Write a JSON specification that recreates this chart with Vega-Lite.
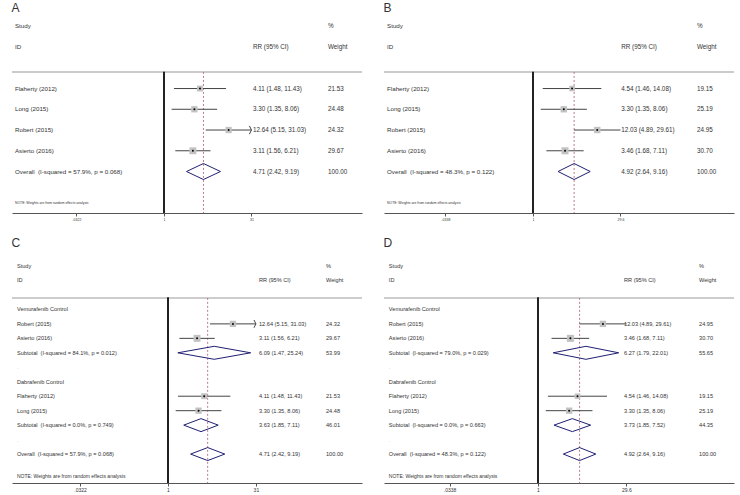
{
  "$schema": "https://vega.github.io/schema/vega-lite/v6.json",
  "background": "white",
  "padding": {"left": 11, "top": 2, "right": 0, "bottom": 0},
  "config": {
    "view": {"stroke": null},
    "font": "Liberation Sans",
    "title": {"fontSize": 12, "fontWeight": "normal", "anchor": "start", "color": "#333", "offset": 3, "font": "Liberation Sans"},
    "axis": {"grid": false, "domainColor": "#555", "tickColor": "#555", "tickSize": 3, "labelColor": "#333", "labelPadding": 1, "title": null, "labelFont": "Liberation Sans"}
  },
  "datasets": {
    "A": [
      {"row": -3, "label": "Study", "wtext": "%", "kind": "head"},
      {"row": -2, "label": "ID", "rrtext": "RR (95% CI)", "wtext": "Weight", "kind": "head"},
      {"row": 0, "label": "Flaherty (2012)", "rr": 4.11, "lo": 1.48, "hi": 11.43, "w": 21.53, "rrtext": "4.11 (1.48, 11.43)", "wtext": "21.53", "kind": "study"},
      {"row": 1, "label": "Long (2015)", "rr": 3.30, "lo": 1.35, "hi": 8.06, "w": 24.48, "rrtext": "3.30 (1.35, 8.06)", "wtext": "24.48", "kind": "study"},
      {"row": 2, "label": "Robert (2015)", "rr": 12.64, "lo": 5.15, "hi": 31.03, "w": 24.32, "rrtext": "12.64 (5.15, 31.03)", "wtext": "24.32", "kind": "study"},
      {"row": 3, "label": "Asierto (2016)", "rr": 3.11, "lo": 1.56, "hi": 6.21, "w": 29.67, "rrtext": "3.11 (1.56, 6.21)", "wtext": "29.67", "kind": "study"},
      {"row": 4, "label": "Overall\u00a0 (I-squared = 57.9%, p = 0.068)", "rr": 4.71, "lo": 2.42, "hi": 9.19, "w": 100, "rrtext": "4.71 (2.42, 9.19)", "wtext": "100.00", "kind": "overall"},
      {"row": 5.5, "label": "NOTE: Weights are from random effects analysis", "kind": "note"}
    ],
    "B": [
      {"row": -3, "label": "Study", "wtext": "%", "kind": "head"},
      {"row": -2, "label": "ID", "rrtext": "RR (95% CI)", "wtext": "Weight", "kind": "head"},
      {"row": 0, "label": "Flaherty (2012)", "rr": 4.54, "lo": 1.46, "hi": 14.08, "w": 19.15, "rrtext": "4.54 (1.46, 14.08)", "wtext": "19.15", "kind": "study"},
      {"row": 1, "label": "Long (2015)", "rr": 3.30, "lo": 1.35, "hi": 8.06, "w": 25.19, "rrtext": "3.30 (1.35, 8.06)", "wtext": "25.19", "kind": "study"},
      {"row": 2, "label": "Robert (2015)", "rr": 12.03, "lo": 4.89, "hi": 29.61, "w": 24.95, "rrtext": "12.03 (4.89, 29.61)", "wtext": "24.95", "kind": "study"},
      {"row": 3, "label": "Asierto (2016)", "rr": 3.46, "lo": 1.68, "hi": 7.11, "w": 30.70, "rrtext": "3.46 (1.68, 7.11)", "wtext": "30.70", "kind": "study"},
      {"row": 4, "label": "Overall\u00a0 (I-squared = 48.3%, p = 0.122)", "rr": 4.92, "lo": 2.64, "hi": 9.16, "w": 100, "rrtext": "4.92 (2.64, 9.16)", "wtext": "100.00", "kind": "overall"},
      {"row": 5.5, "label": "NOTE: Weights are from random effects analysis", "kind": "note"}
    ],
    "C": [
      {"row": -3, "label": "Study", "wtext": "%", "kind": "head"},
      {"row": -2, "label": "ID", "rrtext": "RR (95% CI)", "wtext": "Weight", "kind": "head"},
      {"row": 0, "label": "Vemurafenib Control", "kind": "group"},
      {"row": 1, "label": "Robert (2015)", "rr": 12.64, "lo": 5.15, "hi": 31.03, "w": 24.32, "rrtext": "12.64 (5.15, 31.03)", "wtext": "24.32", "kind": "study"},
      {"row": 2, "label": "Asierto (2016)", "rr": 3.11, "lo": 1.56, "hi": 6.21, "w": 29.67, "rrtext": "3.11 (1.56, 6.21)", "wtext": "29.67", "kind": "study"},
      {"row": 3, "label": "Subtotal\u00a0 (I-squared = 84.1%, p = 0.012)", "rr": 6.09, "lo": 1.47, "hi": 25.24, "w": 53.99, "rrtext": "6.09 (1.47, 25.24)", "wtext": "53.99", "kind": "subtotal"},
      {"row": 4, "label": ".", "kind": "blank"},
      {"row": 5, "label": "Dabrafenib Control", "kind": "group"},
      {"row": 6, "label": "Flaherty (2012)", "rr": 4.11, "lo": 1.48, "hi": 11.43, "w": 21.53, "rrtext": "4.11 (1.48, 11.43)", "wtext": "21.53", "kind": "study"},
      {"row": 7, "label": "Long (2015)", "rr": 3.30, "lo": 1.35, "hi": 8.06, "w": 24.48, "rrtext": "3.30 (1.35, 8.06)", "wtext": "24.48", "kind": "study"},
      {"row": 8, "label": "Subtotal\u00a0 (I-squared = 0.0%, p = 0.749)", "rr": 3.63, "lo": 1.85, "hi": 7.11, "w": 46.01, "rrtext": "3.63 (1.85, 7.11)", "wtext": "46.01", "kind": "subtotal"},
      {"row": 9, "label": ".", "kind": "blank"},
      {"row": 10, "label": "Overall\u00a0 (I-squared = 57.9%, p = 0.068)", "rr": 4.71, "lo": 2.42, "hi": 9.19, "w": 100, "rrtext": "4.71 (2.42, 9.19)", "wtext": "100.00", "kind": "overall"},
      {"row": 11.5, "label": "NOTE: Weights are from random effects analysis", "kind": "note"}
    ],
    "D": [
      {"row": -3, "label": "Study", "wtext": "%", "kind": "head"},
      {"row": -2, "label": "ID", "rrtext": "RR (95% CI)", "wtext": "Weight", "kind": "head"},
      {"row": 0, "label": "Vemurafenib Control", "kind": "group"},
      {"row": 1, "label": "Robert (2015)", "rr": 12.03, "lo": 4.89, "hi": 29.61, "w": 24.95, "rrtext": "12.03 (4.89, 29.61)", "wtext": "24.95", "kind": "study"},
      {"row": 2, "label": "Asierto (2016)", "rr": 3.46, "lo": 1.68, "hi": 7.11, "w": 30.70, "rrtext": "3.46 (1.68, 7.11)", "wtext": "30.70", "kind": "study"},
      {"row": 3, "label": "Subtotal\u00a0 (I-squared = 79.0%, p = 0.029)", "rr": 6.27, "lo": 1.79, "hi": 22.01, "w": 55.65, "rrtext": "6.27 (1.79, 22.01)", "wtext": "55.65", "kind": "subtotal"},
      {"row": 4, "label": ".", "kind": "blank"},
      {"row": 5, "label": "Dabrafenib Control", "kind": "group"},
      {"row": 6, "label": "Flaherty (2012)", "rr": 4.54, "lo": 1.46, "hi": 14.08, "w": 19.15, "rrtext": "4.54 (1.46, 14.08)", "wtext": "19.15", "kind": "study"},
      {"row": 7, "label": "Long (2015)", "rr": 3.30, "lo": 1.35, "hi": 8.06, "w": 25.19, "rrtext": "3.30 (1.35, 8.06)", "wtext": "25.19", "kind": "study"},
      {"row": 8, "label": "Subtotal\u00a0 (I-squared = 0.0%, p = 0.663)", "rr": 3.73, "lo": 1.85, "hi": 7.52, "w": 44.35, "rrtext": "3.73 (1.85, 7.52)", "wtext": "44.35", "kind": "subtotal"},
      {"row": 9, "label": ".", "kind": "blank"},
      {"row": 10, "label": "Overall\u00a0 (I-squared = 48.3%, p = 0.122)", "rr": 4.92, "lo": 2.64, "hi": 9.16, "w": 100, "rrtext": "4.92 (2.64, 9.16)", "wtext": "100.00", "kind": "overall"},
      {"row": 11.5, "label": "NOTE: Weights are from random effects analysis", "kind": "note"}
    ]
  },
  "vconcat": [
    {
      "hconcat": [
        {
          "title": "A",
          "width": 350, "height": 195,
          "data": {"name": "A"},
          "layer": [
            {"mark": {"type": "rule", "color": "#cccccc", "strokeWidth": 1}, "encoding": {"y": {"datum": -0.8, "type": "quantitative", "scale": {"domain": [-3.4, 6], "reverse": true, "nice": false, "zero": false}, "axis": null}}},
            {"mark": {"type": "rule", "color": "#222222", "strokeWidth": 1}, "encoding": {"x": {"datum": 1, "type": "quantitative", "scale": {"type": "log", "domain": [0.002563, 2378], "nice": false}, "axis": {"values": [0.0322, 1, 31], "labelExpr": "datum.value < 0.5 ? '.0322' : datum.value < 2 ? '1' : '31'", "labelFontSize": 3.5}}, "y": {"datum": -0.8, "type": "quantitative"}, "y2": {"datum": 6}}},
            {"transform": [{"filter": "datum.kind == 'overall'"}], "mark": {"type": "rule", "color": "#c0778a", "strokeDash": [2, 2], "strokeWidth": 1}, "encoding": {"x": {"field": "rr", "type": "quantitative"}, "y": {"datum": -0.8, "type": "quantitative"}, "y2": {"datum": 6}}},
            {"transform": [{"filter": "datum.kind == 'study'"}], "mark": {"type": "rule", "color": "#444444", "strokeWidth": 1}, "encoding": {"x": {"field": "lo", "type": "quantitative"}, "x2": {"field": "hi"}, "y": {"field": "row", "type": "quantitative"}}},
            {"transform": [{"filter": "datum.kind == 'study' && datum.hi > 30.5"}], "mark": {"type": "point", "shape": "M-0.5,-1L0,0L-0.5,1", "filled": false, "color": "#444444", "strokeWidth": 1, "size": 70, "opacity": 1}, "encoding": {"x": {"field": "hi", "type": "quantitative"}, "y": {"field": "row", "type": "quantitative"}}},
            {"transform": [{"filter": "datum.kind == 'study'"}], "mark": {"type": "point", "shape": "square", "filled": true, "color": "#c2c2c2", "opacity": 1}, "encoding": {"x": {"field": "rr", "type": "quantitative"}, "y": {"field": "row", "type": "quantitative"}, "size": {"field": "w", "type": "quantitative", "scale": {"domain": [0, 31], "range": [0, 50]}, "legend": null}}},
            {"transform": [{"filter": "datum.kind == 'study'"}], "mark": {"type": "point", "shape": "circle", "filled": true, "color": "#000000", "size": 4, "opacity": 1}, "encoding": {"x": {"field": "rr", "type": "quantitative"}, "y": {"field": "row", "type": "quantitative"}}},
            {"transform": [{"filter": "datum.kind == 'overall' || datum.kind == 'subtotal'"}], "mark": {"type": "rule", "color": "#1f1f73", "strokeWidth": 1, "y2Offset": -8}, "encoding": {"x": {"field": "lo", "type": "quantitative"}, "x2": {"field": "rr"}, "y": {"field": "row", "type": "quantitative"}, "y2": {"field": "row"}}},
            {"transform": [{"filter": "datum.kind == 'overall' || datum.kind == 'subtotal'"}], "mark": {"type": "rule", "color": "#1f1f73", "strokeWidth": 1, "y2Offset": 8}, "encoding": {"x": {"field": "lo", "type": "quantitative"}, "x2": {"field": "rr"}, "y": {"field": "row", "type": "quantitative"}, "y2": {"field": "row"}}},
            {"transform": [{"filter": "datum.kind == 'overall' || datum.kind == 'subtotal'"}], "mark": {"type": "rule", "color": "#1f1f73", "strokeWidth": 1, "yOffset": -8}, "encoding": {"x": {"field": "rr", "type": "quantitative"}, "x2": {"field": "hi"}, "y": {"field": "row", "type": "quantitative"}, "y2": {"field": "row"}}},
            {"transform": [{"filter": "datum.kind == 'overall' || datum.kind == 'subtotal'"}], "mark": {"type": "rule", "color": "#1f1f73", "strokeWidth": 1, "yOffset": 8}, "encoding": {"x": {"field": "rr", "type": "quantitative"}, "x2": {"field": "hi"}, "y": {"field": "row", "type": "quantitative"}, "y2": {"field": "row"}}},
            {"transform": [{"filter": "datum.kind != 'note'"}], "mark": {"type": "text", "align": "left", "baseline": "middle", "fontSize": 6.2}, "encoding": {"x": {"datum": 0.00288, "type": "quantitative"}, "y": {"field": "row", "type": "quantitative"}, "text": {"field": "label"}, "color": {"condition": {"test": "datum.kind == 'blank'", "value": "#bbbbbb"}, "value": "#333333"}}},
            {"transform": [{"filter": "datum.kind == 'note'"}], "mark": {"type": "text", "align": "left", "baseline": "middle", "fontSize": 3.4, "color": "#333333"}, "encoding": {"x": {"datum": 0.00288, "type": "quantitative"}, "y": {"field": "row", "type": "quantitative"}, "text": {"field": "label"}}},
            {"transform": [{"filter": "isValid(datum.rrtext)"}], "mark": {"type": "text", "align": "left", "baseline": "middle", "fontSize": 6.3, "color": "#333333"}, "encoding": {"x": {"datum": 32.9, "type": "quantitative"}, "y": {"field": "row", "type": "quantitative"}, "text": {"field": "rrtext"}}},
            {"transform": [{"filter": "isValid(datum.wtext)"}], "mark": {"type": "text", "align": "left", "baseline": "middle", "fontSize": 6.3, "color": "#333333"}, "encoding": {"x": {"datum": 626, "type": "quantitative"}, "y": {"field": "row", "type": "quantitative"}, "text": {"field": "wtext"}}}
          ]
        },
        {
          "title": "B",
          "width": 350, "height": 195,
          "data": {"name": "B"},
          "layer": [
            {"mark": {"type": "rule", "color": "#cccccc", "strokeWidth": 1}, "encoding": {"y": {"datum": -0.8, "type": "quantitative", "scale": {"domain": [-3.4, 6], "reverse": true, "nice": false, "zero": false}, "axis": null}}},
            {"mark": {"type": "rule", "color": "#222222", "strokeWidth": 1}, "encoding": {"x": {"datum": 1, "type": "quantitative", "scale": {"type": "log", "domain": [0.003128, 2397], "nice": false}, "axis": {"values": [0.0338, 1, 29.6], "labelExpr": "datum.value < 0.5 ? '.0338' : datum.value < 2 ? '1' : '29.6'", "labelFontSize": 3.5}}, "y": {"datum": -0.8, "type": "quantitative"}, "y2": {"datum": 6}}},
            {"transform": [{"filter": "datum.kind == 'overall'"}], "mark": {"type": "rule", "color": "#c0778a", "strokeDash": [2, 2], "strokeWidth": 1}, "encoding": {"x": {"field": "rr", "type": "quantitative"}, "y": {"datum": -0.8, "type": "quantitative"}, "y2": {"datum": 6}}},
            {"transform": [{"filter": "datum.kind == 'study'"}], "mark": {"type": "rule", "color": "#444444", "strokeWidth": 1}, "encoding": {"x": {"field": "lo", "type": "quantitative"}, "x2": {"field": "hi"}, "y": {"field": "row", "type": "quantitative"}}},
            {"transform": [{"filter": "datum.kind == 'study'"}], "mark": {"type": "point", "shape": "square", "filled": true, "color": "#c2c2c2", "opacity": 1}, "encoding": {"x": {"field": "rr", "type": "quantitative"}, "y": {"field": "row", "type": "quantitative"}, "size": {"field": "w", "type": "quantitative", "scale": {"domain": [0, 31], "range": [0, 50]}, "legend": null}}},
            {"transform": [{"filter": "datum.kind == 'study'"}], "mark": {"type": "point", "shape": "circle", "filled": true, "color": "#000000", "size": 4, "opacity": 1}, "encoding": {"x": {"field": "rr", "type": "quantitative"}, "y": {"field": "row", "type": "quantitative"}}},
            {"transform": [{"filter": "datum.kind == 'overall' || datum.kind == 'subtotal'"}], "mark": {"type": "rule", "color": "#1f1f73", "strokeWidth": 1, "y2Offset": -8}, "encoding": {"x": {"field": "lo", "type": "quantitative"}, "x2": {"field": "rr"}, "y": {"field": "row", "type": "quantitative"}, "y2": {"field": "row"}}},
            {"transform": [{"filter": "datum.kind == 'overall' || datum.kind == 'subtotal'"}], "mark": {"type": "rule", "color": "#1f1f73", "strokeWidth": 1, "y2Offset": 8}, "encoding": {"x": {"field": "lo", "type": "quantitative"}, "x2": {"field": "rr"}, "y": {"field": "row", "type": "quantitative"}, "y2": {"field": "row"}}},
            {"transform": [{"filter": "datum.kind == 'overall' || datum.kind == 'subtotal'"}], "mark": {"type": "rule", "color": "#1f1f73", "strokeWidth": 1, "yOffset": -8}, "encoding": {"x": {"field": "rr", "type": "quantitative"}, "x2": {"field": "hi"}, "y": {"field": "row", "type": "quantitative"}, "y2": {"field": "row"}}},
            {"transform": [{"filter": "datum.kind == 'overall' || datum.kind == 'subtotal'"}], "mark": {"type": "rule", "color": "#1f1f73", "strokeWidth": 1, "yOffset": 8}, "encoding": {"x": {"field": "rr", "type": "quantitative"}, "x2": {"field": "hi"}, "y": {"field": "row", "type": "quantitative"}, "y2": {"field": "row"}}},
            {"transform": [{"filter": "datum.kind != 'note'"}], "mark": {"type": "text", "align": "left", "baseline": "middle", "fontSize": 6.2}, "encoding": {"x": {"datum": 0.00352, "type": "quantitative"}, "y": {"field": "row", "type": "quantitative"}, "text": {"field": "label"}, "color": {"condition": {"test": "datum.kind == 'blank'", "value": "#bbbbbb"}, "value": "#333333"}}},
            {"transform": [{"filter": "datum.kind == 'note'"}], "mark": {"type": "text", "align": "left", "baseline": "middle", "fontSize": 3.4, "color": "#333333"}, "encoding": {"x": {"datum": 0.00352, "type": "quantitative"}, "y": {"field": "row", "type": "quantitative"}, "text": {"field": "label"}}},
            {"transform": [{"filter": "isValid(datum.rrtext)"}], "mark": {"type": "text", "align": "left", "baseline": "middle", "fontSize": 6.3, "color": "#333333"}, "encoding": {"x": {"datum": 30.5, "type": "quantitative"}, "y": {"field": "row", "type": "quantitative"}, "text": {"field": "rrtext"}}},
            {"transform": [{"filter": "isValid(datum.wtext)"}], "mark": {"type": "text", "align": "left", "baseline": "middle", "fontSize": 6.3, "color": "#333333"}, "encoding": {"x": {"datum": 572, "type": "quantitative"}, "y": {"field": "row", "type": "quantitative"}, "text": {"field": "wtext"}}}
          ]
        }
      ],
      "spacing": 20
    },
    {
      "hconcat": [
        {
          "title": "C",
          "width": 350, "height": 230,
          "data": {"name": "C"},
          "layer": [
            {"mark": {"type": "rule", "color": "#cccccc", "strokeWidth": 1}, "encoding": {"y": {"datum": -0.8, "type": "quantitative", "scale": {"domain": [-3.9, 12], "reverse": true, "nice": false, "zero": false}, "axis": null}}},
            {"mark": {"type": "rule", "color": "#222222", "strokeWidth": 1}, "encoding": {"x": {"datum": 1, "type": "quantitative", "scale": {"type": "log", "domain": [0.002258, 1955], "nice": false}, "axis": {"values": [0.0322, 1, 31], "labelExpr": "datum.value < 0.5 ? '.0322' : datum.value < 2 ? '1' : '31'", "labelFontSize": 5}}, "y": {"datum": -0.8, "type": "quantitative"}, "y2": {"datum": 12}}},
            {"transform": [{"filter": "datum.kind == 'overall'"}], "mark": {"type": "rule", "color": "#c0778a", "strokeDash": [2, 2], "strokeWidth": 1}, "encoding": {"x": {"field": "rr", "type": "quantitative"}, "y": {"datum": -0.8, "type": "quantitative"}, "y2": {"datum": 12}}},
            {"transform": [{"filter": "datum.kind == 'study'"}], "mark": {"type": "rule", "color": "#444444", "strokeWidth": 1}, "encoding": {"x": {"field": "lo", "type": "quantitative"}, "x2": {"field": "hi"}, "y": {"field": "row", "type": "quantitative"}}},
            {"transform": [{"filter": "datum.kind == 'study' && datum.hi > 30.5"}], "mark": {"type": "point", "shape": "M-0.5,-1L0,0L-0.5,1", "filled": false, "color": "#444444", "strokeWidth": 1, "size": 60, "opacity": 1}, "encoding": {"x": {"field": "hi", "type": "quantitative"}, "y": {"field": "row", "type": "quantitative"}}},
            {"transform": [{"filter": "datum.kind == 'study'"}], "mark": {"type": "point", "shape": "square", "filled": true, "color": "#c2c2c2", "opacity": 1}, "encoding": {"x": {"field": "rr", "type": "quantitative"}, "y": {"field": "row", "type": "quantitative"}, "size": {"field": "w", "type": "quantitative", "scale": {"domain": [0, 31], "range": [0, 45]}, "legend": null}}},
            {"transform": [{"filter": "datum.kind == 'study'"}], "mark": {"type": "point", "shape": "circle", "filled": true, "color": "#000000", "size": 4, "opacity": 1}, "encoding": {"x": {"field": "rr", "type": "quantitative"}, "y": {"field": "row", "type": "quantitative"}}},
            {"transform": [{"filter": "datum.kind == 'overall' || datum.kind == 'subtotal'"}], "mark": {"type": "rule", "color": "#1f1f73", "strokeWidth": 1, "y2Offset": -6.5}, "encoding": {"x": {"field": "lo", "type": "quantitative"}, "x2": {"field": "rr"}, "y": {"field": "row", "type": "quantitative"}, "y2": {"field": "row"}}},
            {"transform": [{"filter": "datum.kind == 'overall' || datum.kind == 'subtotal'"}], "mark": {"type": "rule", "color": "#1f1f73", "strokeWidth": 1, "y2Offset": 6.5}, "encoding": {"x": {"field": "lo", "type": "quantitative"}, "x2": {"field": "rr"}, "y": {"field": "row", "type": "quantitative"}, "y2": {"field": "row"}}},
            {"transform": [{"filter": "datum.kind == 'overall' || datum.kind == 'subtotal'"}], "mark": {"type": "rule", "color": "#1f1f73", "strokeWidth": 1, "yOffset": -6.5}, "encoding": {"x": {"field": "rr", "type": "quantitative"}, "x2": {"field": "hi"}, "y": {"field": "row", "type": "quantitative"}, "y2": {"field": "row"}}},
            {"transform": [{"filter": "datum.kind == 'overall' || datum.kind == 'subtotal'"}], "mark": {"type": "rule", "color": "#1f1f73", "strokeWidth": 1, "yOffset": 6.5}, "encoding": {"x": {"field": "rr", "type": "quantitative"}, "x2": {"field": "hi"}, "y": {"field": "row", "type": "quantitative"}, "y2": {"field": "row"}}},
            {"transform": [{"filter": "datum.kind != 'note'"}], "mark": {"type": "text", "align": "left", "baseline": "middle", "fontSize": 5.6}, "encoding": {"x": {"datum": 0.00274, "type": "quantitative"}, "y": {"field": "row", "type": "quantitative"}, "text": {"field": "label"}, "color": {"condition": {"test": "datum.kind == 'blank'", "value": "#bbbbbb"}, "value": "#333333"}}},
            {"transform": [{"filter": "datum.kind == 'note'"}], "mark": {"type": "text", "align": "left", "baseline": "middle", "fontSize": 5, "color": "#333333"}, "encoding": {"x": {"datum": 0.00274, "type": "quantitative"}, "y": {"field": "row", "type": "quantitative"}, "text": {"field": "label"}}},
            {"transform": [{"filter": "isValid(datum.rrtext)"}], "mark": {"type": "text", "align": "left", "baseline": "middle", "fontSize": 5.6, "color": "#333333"}, "encoding": {"x": {"datum": 35, "type": "quantitative"}, "y": {"field": "row", "type": "quantitative"}, "text": {"field": "rrtext"}}},
            {"transform": [{"filter": "isValid(datum.wtext)"}], "mark": {"type": "text", "align": "left", "baseline": "middle", "fontSize": 5.6, "color": "#333333"}, "encoding": {"x": {"datum": 479, "type": "quantitative"}, "y": {"field": "row", "type": "quantitative"}, "text": {"field": "wtext"}}}
          ]
        },
        {
          "title": "D",
          "width": 350, "height": 230,
          "data": {"name": "D"},
          "layer": [
            {"mark": {"type": "rule", "color": "#cccccc", "strokeWidth": 1}, "encoding": {"y": {"datum": -0.8, "type": "quantitative", "scale": {"domain": [-3.9, 12], "reverse": true, "nice": false, "zero": false}, "axis": null}}},
            {"mark": {"type": "rule", "color": "#222222", "strokeWidth": 1}, "encoding": {"x": {"datum": 1, "type": "quantitative", "scale": {"type": "log", "domain": [0.002739, 1826], "nice": false}, "axis": {"values": [0.0338, 1, 29.6], "labelExpr": "datum.value < 0.5 ? '.0338' : datum.value < 2 ? '1' : '29.6'", "labelFontSize": 5}}, "y": {"datum": -0.8, "type": "quantitative"}, "y2": {"datum": 12}}},
            {"transform": [{"filter": "datum.kind == 'overall'"}], "mark": {"type": "rule", "color": "#c0778a", "strokeDash": [2, 2], "strokeWidth": 1}, "encoding": {"x": {"field": "rr", "type": "quantitative"}, "y": {"datum": -0.8, "type": "quantitative"}, "y2": {"datum": 12}}},
            {"transform": [{"filter": "datum.kind == 'study'"}], "mark": {"type": "rule", "color": "#444444", "strokeWidth": 1}, "encoding": {"x": {"field": "lo", "type": "quantitative"}, "x2": {"field": "hi"}, "y": {"field": "row", "type": "quantitative"}}},
            {"transform": [{"filter": "datum.kind == 'study'"}], "mark": {"type": "point", "shape": "square", "filled": true, "color": "#c2c2c2", "opacity": 1}, "encoding": {"x": {"field": "rr", "type": "quantitative"}, "y": {"field": "row", "type": "quantitative"}, "size": {"field": "w", "type": "quantitative", "scale": {"domain": [0, 31], "range": [0, 45]}, "legend": null}}},
            {"transform": [{"filter": "datum.kind == 'study'"}], "mark": {"type": "point", "shape": "circle", "filled": true, "color": "#000000", "size": 4, "opacity": 1}, "encoding": {"x": {"field": "rr", "type": "quantitative"}, "y": {"field": "row", "type": "quantitative"}}},
            {"transform": [{"filter": "datum.kind == 'overall' || datum.kind == 'subtotal'"}], "mark": {"type": "rule", "color": "#1f1f73", "strokeWidth": 1, "y2Offset": -6.5}, "encoding": {"x": {"field": "lo", "type": "quantitative"}, "x2": {"field": "rr"}, "y": {"field": "row", "type": "quantitative"}, "y2": {"field": "row"}}},
            {"transform": [{"filter": "datum.kind == 'overall' || datum.kind == 'subtotal'"}], "mark": {"type": "rule", "color": "#1f1f73", "strokeWidth": 1, "y2Offset": 6.5}, "encoding": {"x": {"field": "lo", "type": "quantitative"}, "x2": {"field": "rr"}, "y": {"field": "row", "type": "quantitative"}, "y2": {"field": "row"}}},
            {"transform": [{"filter": "datum.kind == 'overall' || datum.kind == 'subtotal'"}], "mark": {"type": "rule", "color": "#1f1f73", "strokeWidth": 1, "yOffset": -6.5}, "encoding": {"x": {"field": "rr", "type": "quantitative"}, "x2": {"field": "hi"}, "y": {"field": "row", "type": "quantitative"}, "y2": {"field": "row"}}},
            {"transform": [{"filter": "datum.kind == 'overall' || datum.kind == 'subtotal'"}], "mark": {"type": "rule", "color": "#1f1f73", "strokeWidth": 1, "yOffset": 6.5}, "encoding": {"x": {"field": "rr", "type": "quantitative"}, "x2": {"field": "hi"}, "y": {"field": "row", "type": "quantitative"}, "y2": {"field": "row"}}},
            {"transform": [{"filter": "datum.kind != 'note'"}], "mark": {"type": "text", "align": "left", "baseline": "middle", "fontSize": 5.6}, "encoding": {"x": {"datum": 0.0033, "type": "quantitative"}, "y": {"field": "row", "type": "quantitative"}, "text": {"field": "label"}, "color": {"condition": {"test": "datum.kind == 'blank'", "value": "#bbbbbb"}, "value": "#333333"}}},
            {"transform": [{"filter": "datum.kind == 'note'"}], "mark": {"type": "text", "align": "left", "baseline": "middle", "fontSize": 5, "color": "#333333"}, "encoding": {"x": {"datum": 0.0033, "type": "quantitative"}, "y": {"field": "row", "type": "quantitative"}, "text": {"field": "label"}}},
            {"transform": [{"filter": "isValid(datum.rrtext)"}], "mark": {"type": "text", "align": "left", "baseline": "middle", "fontSize": 5.6, "color": "#333333"}, "encoding": {"x": {"datum": 27, "type": "quantitative"}, "y": {"field": "row", "type": "quantitative"}, "text": {"field": "rrtext"}}},
            {"transform": [{"filter": "isValid(datum.wtext)"}], "mark": {"type": "text", "align": "left", "baseline": "middle", "fontSize": 5.6, "color": "#333333"}, "encoding": {"x": {"datum": 478, "type": "quantitative"}, "y": {"field": "row", "type": "quantitative"}, "text": {"field": "wtext"}}}
          ]
        }
      ],
      "spacing": 20
    }
  ],
  "spacing": 16
}
